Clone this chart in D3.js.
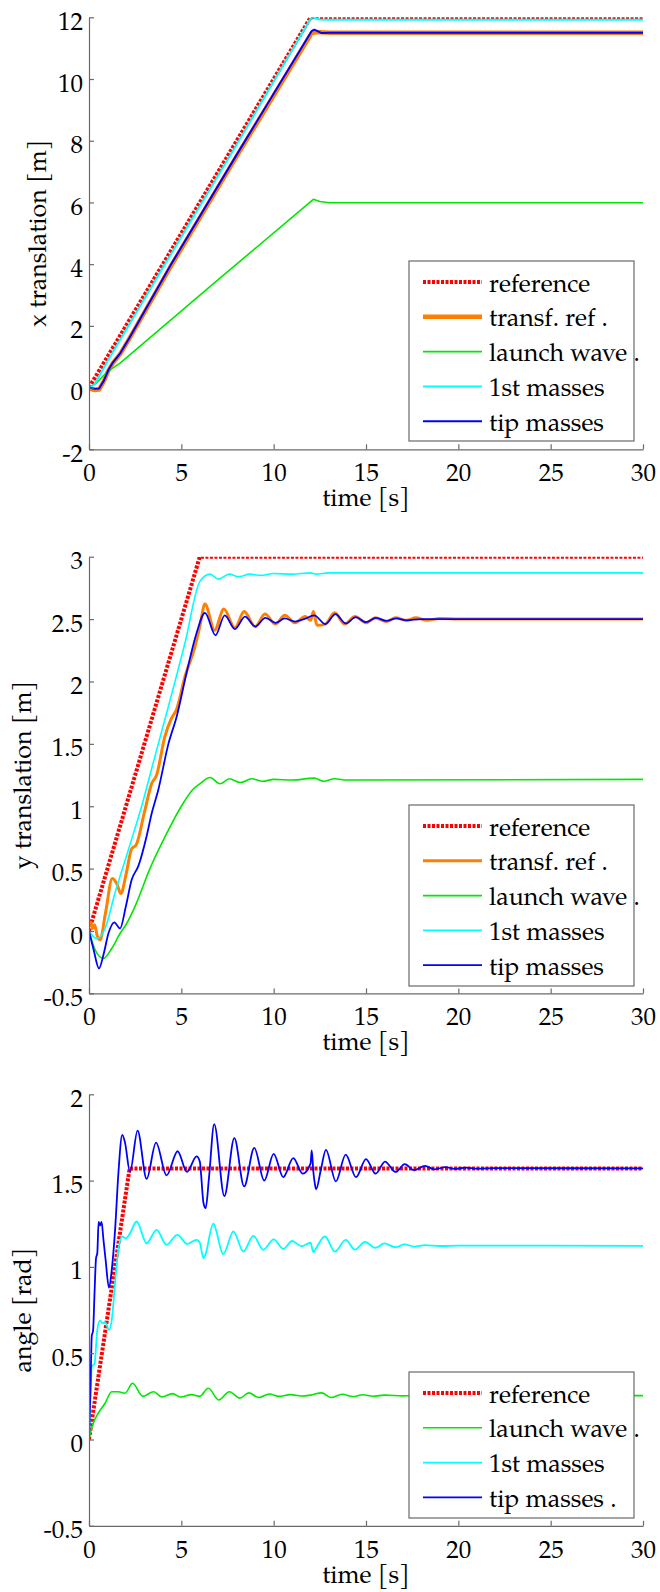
<!DOCTYPE html>
<html>
<head>
<meta charset="utf-8">
<script src="https://cdn.jsdelivr.net/npm/d3@7"></script>
<style>
  body { margin: 0; background: #fff; }
  svg { display: block; }
</style>
</head>
<body>
<svg id="chart" width="660" height="1592"></svg>
<script>
// ---- data ----
const timeTicks = [0, 5, 10, 15, 20, 25, 30];
const xTicks = [-2, 0, 2, 4, 6, 8, 10, 12];
const yTicks = [-0.5, 0, 0.5, 1, 1.5, 2, 2.5, 3];
const angleTicks = [-0.5, 0, 0.5, 1, 1.5, 2];

const legendXY = ['reference', 'transf. ref .', 'launch wave .', '1st masses', 'tip masses'];
const legendAngle = ['reference', 'launch wave .', '1st masses', 'tip masses .'];

// panel 1: x translation [m]
const xRef = [[0, 0], [12, 12], [30, 12]];
const xTransf = [[0, -0.02], [0.3, -0.08], [0.55, -0.06], [0.8, 0.2], [1.05, 0.55], [1.3, 0.8], [1.7, 1.1],
  [2.2, 1.6], [4.5, 4.0], [8, 7.5], [12.05, 11.48], [12.3, 11.52], [13, 11.5], [30, 11.5]];
const xLaunch = [[0, 0], [0.4, 0.15], [0.8, 0.4], [1.2, 0.6], [1.7, 0.8], [6.9, 3.45], [12.15, 6.1],
  [12.5, 6.03], [13, 5.99], [30, 5.99]];
const xFirst = [[0, 0], [0.3, 0.1], [1, 0.85], [4, 3.88], [8, 7.88], [12.0, 11.95], [12.1, 12.0],
  [12.5, 11.93], [13, 11.92], [30, 11.92]];
const xTip = [[0, 0], [0.3, -0.04], [0.55, -0.03], [0.8, 0.22], [1.05, 0.57], [1.3, 0.82], [1.7, 1.12],
  [2.2, 1.62], [4.5, 4.05], [8, 7.55], [12.05, 11.55], [12.2, 11.6], [12.6, 11.49], [13, 11.5], [30, 11.5]];

// panel 2: y translation [m]
const yRef = [[0, 0], [6, 3], [30, 3]];
const yTransf = [[0, 0.04], [0.1, 0.07], [0.2, 0.02], [0.3, 0.05], [0.45, -0.04], [0.6, -0.07], [0.9, 0.15],
  [1.26, 0.42], [1.5, 0.38], [1.73, 0.3], [2.0, 0.45], [2.31, 0.66], [2.55, 0.69], [3.0, 0.95], [3.39, 1.18],
  [3.66, 1.25], [4.11, 1.56], [4.45, 1.7], [4.75, 1.78], [5.2, 2.04], [5.74, 2.28], [6.0, 2.44], [6.28, 2.62],
  [6.8, 2.41], [7.3, 2.58], [7.9, 2.43], [8.4, 2.56], [9.0, 2.44], [9.53, 2.54], [10.1, 2.46], [10.6, 2.53],
  [11.15, 2.47], [11.7, 2.52], [12.0, 2.49], [12.15, 2.56], [12.35, 2.45], [12.8, 2.46], [13.3, 2.55],
  [13.85, 2.46], [14.4, 2.52], [15.0, 2.47], [15.5, 2.51], [16.1, 2.48], [16.6, 2.51], [17.2, 2.49],
  [17.7, 2.51], [18.3, 2.49], [19, 2.505], [20, 2.5], [30, 2.5]];
const yLaunch = [[0, 0], [0.33, -0.15], [0.78, -0.22], [1.23, -0.14], [1.68, -0.02], [2.0, 0.05], [2.5, 0.2],
  [3.3, 0.5], [4.1, 0.75], [5.0, 1.0], [5.6, 1.13], [6.0, 1.18], [6.55, 1.23], [7.1, 1.18], [7.6, 1.22],
  [8.2, 1.19], [8.8, 1.22], [9.4, 1.2], [10, 1.215], [11, 1.21], [12.2, 1.225], [12.7, 1.2], [13.3, 1.22],
  [14, 1.21], [30, 1.215]];
const yFirst = [[0, 0], [0.42, -0.06], [0.87, 0.02], [1.4, 0.3], [2.13, 0.65], [2.85, 1.0], [3.57, 1.4],
  [4.3, 1.8], [5.2, 2.31], [6.0, 2.8], [6.55, 2.86], [7.0, 2.82], [7.6, 2.86], [8.1, 2.84], [8.7, 2.86],
  [9.3, 2.85], [10, 2.865], [11, 2.86], [12, 2.87], [12.3, 2.86], [13, 2.87], [30, 2.87]];
const yTip = [[0, 0], [0.25, -0.15], [0.54, -0.3], [0.8, -0.18], [1.05, -0.02], [1.37, 0.07], [1.68, 0.02],
  [2.0, 0.2], [2.31, 0.41], [2.67, 0.52], [3.12, 0.76], [3.39, 0.94], [3.75, 1.13], [4.3, 1.5], [4.75, 1.72],
  [5.3, 2.08], [5.83, 2.39], [6.28, 2.55], [6.85, 2.37], [7.35, 2.53], [7.9, 2.42], [8.45, 2.52], [9.0, 2.44],
  [9.55, 2.51], [10.1, 2.47], [10.6, 2.505], [11.15, 2.48], [11.65, 2.5], [12.2, 2.53], [12.8, 2.46],
  [13.35, 2.54], [13.9, 2.465], [14.45, 2.515], [15, 2.475], [15.55, 2.51], [16.1, 2.485], [16.65, 2.505],
  [17.2, 2.49], [18, 2.5], [30, 2.5]];

// panel 3: angle [rad]
const aRef = [[0, 0], [2.2, 1.5708], [30, 1.5708]];
const aLaunch = [[0, 0], [0.1, 0.05], [0.23, 0.094], [0.5, 0.152], [0.87, 0.21], [1.23, 0.277], [1.59, 0.277],
  [1.95, 0.268], [2.36, 0.326], [2.92, 0.25], [3.5, 0.277], [3.95, 0.246], [4.52, 0.266], [4.97, 0.246],
  [5.55, 0.26], [6.0, 0.25], [6.46, 0.297], [7.03, 0.229], [7.6, 0.277], [8.17, 0.24], [8.65, 0.27],
  [9.2, 0.243], [9.76, 0.264], [10.3, 0.25], [10.9, 0.26], [11.5, 0.252], [12.0, 0.257], [12.6, 0.27],
  [13.1, 0.243], [13.7, 0.262], [14.3, 0.249], [14.8, 0.259], [15.4, 0.251], [16, 0.257], [17, 0.253],
  [18, 0.256], [30, 0.254]];
const aFirst = [[0, 0], [0.08, 0.25], [0.11, 0.33], [0.14, 0.42], [0.3, 0.44], [0.45, 0.635], [0.6, 0.69],
  [0.72, 0.675], [0.87, 0.68], [1.08, 0.635], [1.23, 0.69], [1.41, 0.905], [1.59, 1.1], [1.8, 1.176],
  [2.0, 1.165], [2.2, 1.19], [2.58, 1.263], [3.12, 1.137], [3.66, 1.215], [4.2, 1.128], [4.78, 1.186],
  [5.32, 1.133], [5.83, 1.157], [6.0, 1.14], [6.2, 1.05], [6.3, 1.07], [6.73, 1.25], [7.27, 1.074],
  [7.82, 1.205], [8.36, 1.089], [8.9, 1.18], [9.44, 1.099], [10.0, 1.16], [10.52, 1.104], [11.0, 1.15],
  [11.5, 1.12], [12.0, 1.14], [12.1, 1.1], [12.15, 1.085], [12.25, 1.1], [12.78, 1.176], [13.32, 1.089],
  [13.9, 1.157], [14.4, 1.1], [14.95, 1.145], [15.5, 1.11], [16.0, 1.136], [16.6, 1.114], [17.1, 1.13],
  [17.6, 1.118], [18.2, 1.126], [19, 1.121], [20, 1.123], [30, 1.122]];
const aTip = [[0, 0], [0.08, 0.3], [0.15, 0.6], [0.22, 0.63], [0.3, 0.85], [0.38, 1.05], [0.45, 1.08],
  [0.52, 1.26], [0.6, 1.24], [0.68, 1.26], [0.78, 1.16], [0.9, 1.04], [1.08, 0.88], [1.23, 0.98],
  [1.41, 1.21], [1.59, 1.54], [1.8, 1.765], [1.95, 1.72], [2.22, 1.55], [2.63, 1.79], [3.12, 1.51],
  [3.63, 1.72], [4.2, 1.53], [4.8, 1.67], [5.3, 1.55], [5.83, 1.64], [6.0, 1.61], [6.2, 1.37], [6.32, 1.34],
  [6.5, 1.52], [6.78, 1.827], [7.33, 1.41], [7.87, 1.746], [8.4, 1.466], [8.95, 1.69], [9.49, 1.5],
  [10.0, 1.655], [10.52, 1.52], [11.06, 1.63], [11.57, 1.54], [12.0, 1.6], [12.06, 1.675], [12.15, 1.55],
  [12.24, 1.475], [12.3, 1.45], [12.55, 1.56], [12.83, 1.678], [13.37, 1.495], [13.9, 1.65], [14.46, 1.52],
  [15.0, 1.625], [15.52, 1.54], [16.03, 1.61], [16.6, 1.55], [17.1, 1.595], [17.6, 1.56], [18.2, 1.585],
  [18.7, 1.565], [19.3, 1.578], [19.8, 1.568], [20.4, 1.575], [21, 1.569], [22, 1.572], [30, 1.571]];

// ---- styles ----
const RED = '#ff0000', ORANGE = '#ff8000', GREEN = '#00e800', CYAN = '#00ffff', BLUE = '#0000ff';
const AXIS = '#6a6a6a';
const FONT = '"TeX Gyre Pagella", "Liberation Serif", serif';

const panels = [
  {
    top: 17.3, bottom: 449.3, domain: [-2, 12], ticks: xTicks, label: 'x translation [m]', labelX: 46,
    legendTop: 261, legendH: 180, smooth: false,
    series: [
      { name: legendXY[0], data: xRef, color: RED, w: 4, dash: '3,1.5' },
      { name: legendXY[1], data: xTransf, color: ORANGE, w: 4.5 },
      { name: legendXY[2], data: xLaunch, color: GREEN, w: 1.6 },
      { name: legendXY[3], data: xFirst, color: CYAN, w: 2 },
      { name: legendXY[4], data: xTip, color: BLUE, w: 2 }
    ]
  },
  {
    top: 556.7, bottom: 993.4, domain: [-0.5, 3], ticks: yTicks, label: 'y translation [m]', labelX: 31,
    legendTop: 805, legendH: 181, smooth: true,
    series: [
      { name: legendXY[0], data: yRef, color: RED, w: 4, dash: '3,1.5' },
      { name: legendXY[1], data: yTransf, color: ORANGE, w: 3 },
      { name: legendXY[2], data: yLaunch, color: GREEN, w: 1.6 },
      { name: legendXY[3], data: yFirst, color: CYAN, w: 1.6 },
      { name: legendXY[4], data: yTip, color: BLUE, w: 1.8 }
    ]
  },
  {
    top: 1094.3, bottom: 1525.8, domain: [-0.5, 2], ticks: angleTicks, label: 'angle [rad]', labelX: 31,
    legendTop: 1372, legendH: 146, smooth: true,
    series: [
      { name: legendAngle[0], data: aRef, color: RED, w: 4, dash: '3,1.5' },
      { name: legendAngle[1], data: aLaunch, color: GREEN, w: 1.6 },
      { name: legendAngle[2], data: aFirst, color: CYAN, w: 1.8 },
      { name: legendAngle[3], data: aTip, color: BLUE, w: 1.8 }
    ]
  }
];

const left = 89, right = 643;
const svg = d3.select('#chart');
svg.append('rect').attr('width', 660).attr('height', 1592).attr('fill', '#fff');

const x = d3.scaleLinear().domain([0, 30]).range([left, right]);

panels.forEach((p, i) => {
  const y = d3.scaleLinear().domain(p.domain).range([p.bottom, p.top]);
  const g = svg.append('g');

  const clipId = 'clip' + i;
  svg.append('clipPath').attr('id', clipId)
    .append('rect').attr('x', left).attr('y', p.top)
    .attr('width', right - left).attr('height', p.bottom - p.top);

  // lines (the dotted reference stays piecewise linear)
  const lines = g.append('g').attr('clip-path', `url(#${clipId})`);
  p.series.forEach(s => {
    const line = d3.line()
      .x(d => x(d[0])).y(d => y(d[1]))
      .curve(p.smooth && !s.dash ? d3.curveMonotoneX : d3.curveLinear);
    lines.append('path')
      .datum(s.data)
      .attr('d', line)
      .attr('fill', 'none')
      .attr('stroke', s.color)
      .attr('stroke-width', s.w)
      .attr('stroke-dasharray', s.dash || null)
      .attr('stroke-linejoin', 'round');
  });

  // axes
  const xAxis = g.append('g')
    .attr('transform', `translate(0,${p.bottom})`)
    .call(d3.axisBottom(x).tickValues(timeTicks).tickSizeInner(-5).tickSizeOuter(0)
      .tickPadding(14).tickFormat(d => String(d)));
  const yAxis = g.append('g')
    .attr('transform', `translate(${left},0)`)
    .call(d3.axisLeft(y).tickValues(p.ticks).tickSizeInner(-5).tickSizeOuter(0)
      .tickPadding(6).tickFormat(d => String(d)));
  [xAxis, yAxis].forEach(a => {
    a.select('.domain').attr('stroke', AXIS).attr('stroke-width', 1.2);
    a.selectAll('.tick line').attr('stroke', AXIS).attr('stroke-width', 1.2);
    a.selectAll('.tick text').attr('fill', '#000')
      .style('font-family', FONT).style('font-size', '25px');
  });
  yAxis.selectAll('.tick text').attr('dy', '0.48em');

  // axis titles
  g.append('text')
    .attr('x', (left + right) / 2).attr('y', p.bottom + 57)
    .attr('text-anchor', 'middle')
    .style('font-family', FONT).style('font-size', '25px')
    .text('time [s]');
  g.append('text')
    .attr('transform', `translate(${p.labelX},${(p.top + p.bottom) / 2}) rotate(-90)`)
    .attr('text-anchor', 'middle')
    .style('font-family', FONT).style('font-size', '25px')
    .text(p.label);

  // legend
  const lg = g.append('g').attr('transform', `translate(409,${p.legendTop})`);
  lg.append('rect').attr('width', 225).attr('height', p.legendH)
    .attr('fill', '#fff').attr('stroke', AXIS).attr('stroke-width', 1.2);
  p.series.forEach((s, k) => {
    const ly = 21 + k * 34.8;
    lg.append('line').attr('x1', 14).attr('x2', 73).attr('y1', ly).attr('y2', ly)
      .attr('stroke', s.color).attr('stroke-width', s.w)
      .attr('stroke-dasharray', s.dash || null);
    lg.append('text').attr('x', 80).attr('y', ly + 9.5)
      .style('font-family', FONT).style('font-size', '25px')
      .text(s.name);
  });
});
</script>
</body>
</html>
